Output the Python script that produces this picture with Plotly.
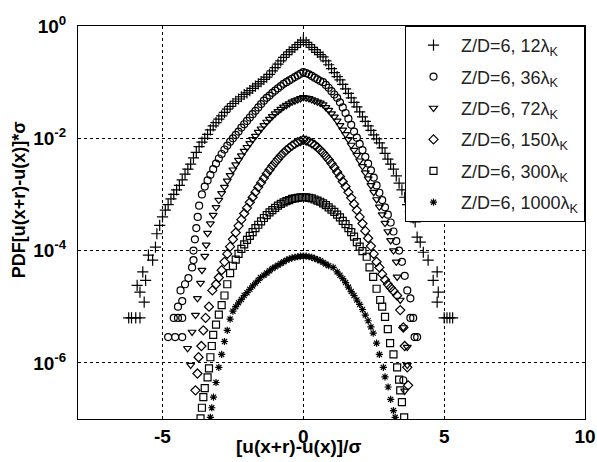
import plotly.graph_objects as go

# ---------------- data ----------------
# x = [u(x+r)-u(x)]/sigma ; logp = log10 of the PDF value

x_12 = [-6.2, -6.1, -5.95, -5.8, -5.65, -5.8, -5.9, -5.6, -5.7, -5.35, -5.5, -5.25, -5.2, -5.1, -5.0,
        -4.9, -4.8, -4.7, -4.6, -4.5, -4.4, -4.3, -4.2, -4.1, -4.0, -3.9, -3.8, -3.7, -3.6, -3.5,
        -3.4, -3.3, -3.2, -3.1, -3.0, -2.9, -2.8, -2.7, -2.6, -2.5, -2.4, -2.3, -2.2, -2.1, -2.0,
        -1.9, -1.8, -1.7, -1.6, -1.5, -1.4, -1.3, -1.2, -1.1, -1.0, -0.9, -0.8, -0.7, -0.6, -0.5,
        -0.4, -0.3, -0.2, -0.1, 0.0, 0.1, 0.2, 0.3, 0.4, 0.5, 0.6, 0.7, 0.8, 0.9, 1.0,
        1.1, 1.2, 1.3, 1.4, 1.5, 1.6, 1.7, 1.8, 1.9, 2.0, 2.1, 2.2, 2.3, 2.4, 2.5,
        2.6, 2.7, 2.8, 2.9, 3.0, 3.1, 3.2, 3.3, 3.4, 3.5, 3.6, 3.7, 3.8, 3.9, 3.97,
        4.04, 4.15, 4.26, 4.43, 4.75, 4.61, 4.79, 4.75, 5.0, 5.1, 5.2, 5.3]
logp_12 = [-5.2, -5.2, -5.2, -5.2, -4.92, -4.74, -4.62, -4.53, -4.38, -4.17, -4.08, -3.94, -3.7, -3.55, -3.4,
           -3.28, -3.18, -3.08, -3.0, -2.92, -2.84, -2.74, -2.64, -2.55, -2.46, -2.35, -2.25, -2.15, -2.07, -2.0,
           -1.93, -1.85, -1.78, -1.72, -1.66, -1.6, -1.54, -1.48, -1.43, -1.38, -1.34, -1.3, -1.26, -1.22, -1.19,
           -1.15, -1.11, -1.07, -1.03, -0.99, -0.95, -0.91, -0.86, -0.8, -0.74, -0.68, -0.62, -0.56, -0.51, -0.46,
           -0.42, -0.38, -0.33, -0.29, -0.25, -0.29, -0.33, -0.38, -0.42, -0.47, -0.51, -0.55, -0.62, -0.69, -0.76,
           -0.83, -0.9, -0.96, -1.04, -1.12, -1.2, -1.28, -1.36, -1.44, -1.53, -1.62, -1.7, -1.78, -1.86, -1.94,
           -2.01, -2.08, -2.17, -2.27, -2.37, -2.46, -2.55, -2.67, -2.8, -2.92, -3.05, -3.18, -3.3, -3.42, -3.49,
           -3.76, -3.85, -4.03, -4.17, -4.38, -4.53, -4.74, -4.92, -5.2, -5.2, -5.2, -5.2]

x_36 = [-4.8, -4.55, -4.3, -4.6, -4.45, -4.3, -4.45, -4.3, -4.36, -4.2, -4.08, -3.95, -3.9, -3.9, -3.85,
        -3.8, -3.75, -3.7, -3.6, -3.5, -3.4, -3.3, -3.2, -3.1, -3.0, -2.9, -2.8, -2.7, -2.6, -2.5,
        -2.4, -2.3, -2.2, -2.1, -2.0, -1.9, -1.8, -1.7, -1.6, -1.5, -1.4, -1.3, -1.2, -1.1, -1.0,
        -0.9, -0.8, -0.7, -0.6, -0.5, -0.4, -0.3, -0.2, -0.1, 0.0, 0.1, 0.2, 0.3, 0.4, 0.5,
        0.6, 0.7, 0.8, 0.9, 1.0, 1.1, 1.2, 1.3, 1.4, 1.5, 1.6, 1.7, 1.8, 1.9, 2.0,
        2.1, 2.2, 2.3, 2.4, 2.5, 2.6, 2.7, 2.8, 2.9, 3.0, 3.1, 3.2, 3.3, 3.4, 3.5,
        3.6, 3.69, 3.8, 3.8, 3.9, 3.95, 4.04, 3.55]
logp_36 = [-5.54, -5.54, -5.54, -5.2, -5.2, -5.2, -5.0, -4.9, -4.71, -4.6, -4.49, -4.3, -4.17, -4.0, -3.8,
           -3.6, -3.4, -3.2, -3.0, -2.86, -2.75, -2.65, -2.55, -2.45, -2.36, -2.28, -2.2, -2.13, -2.06, -2.0,
           -1.94, -1.88, -1.81, -1.75, -1.69, -1.63, -1.57, -1.51, -1.45, -1.39, -1.33, -1.28, -1.24, -1.19, -1.15,
           -1.11, -1.07, -1.03, -1.0, -0.97, -0.94, -0.91, -0.88, -0.85, -0.82, -0.84, -0.86, -0.89, -0.92, -0.95,
           -0.98, -1.0, -1.05, -1.1, -1.16, -1.22, -1.28, -1.36, -1.45, -1.55, -1.65, -1.76, -1.88, -1.99, -2.1,
           -2.21, -2.33, -2.45, -2.57, -2.7, -2.84, -2.97, -3.1, -3.23, -3.36, -3.5, -3.66, -3.83, -4.0, -4.2,
           -4.45, -4.71, -4.85, -5.2, -5.2, -5.54, -5.54, -6.31]

x_72 = [-4.0, -4.11, -3.95, -3.83, -3.76, -3.65, -3.6, -3.5, -3.45, -3.4, -3.3, -3.2, -3.1, -3.0, -2.9,
        -2.8, -2.7, -2.6, -2.5, -2.4, -2.3, -2.2, -2.1, -2.0, -1.9, -1.8, -1.7, -1.6, -1.5, -1.4,
        -1.3, -1.2, -1.1, -1.0, -0.9, -0.8, -0.7, -0.6, -0.5, -0.4, -0.3, -0.2, -0.1, 0.0, 0.1,
        0.2, 0.3, 0.4, 0.5, 0.6, 0.7, 0.8, 0.9, 1.0, 1.1, 1.2, 1.3, 1.4, 1.5, 1.6,
        1.7, 1.8, 1.9, 2.0, 2.1, 2.2, 2.3, 2.4, 2.5, 2.6, 2.7, 2.8, 2.9, 3.0, 3.1,
        3.2, 3.3, 3.33, 3.44, 3.55, 3.69, 3.69, 3.6]
logp_72 = [-6.04, -5.74, -5.45, -5.15, -4.85, -4.58, -4.35, -4.1, -3.9, -3.69, -3.52, -3.37, -3.23, -3.1, -2.98,
           -2.87, -2.76, -2.66, -2.56, -2.47, -2.39, -2.31, -2.23, -2.16, -2.09, -2.02, -1.96, -1.89, -1.83, -1.77,
           -1.71, -1.66, -1.61, -1.56, -1.52, -1.48, -1.44, -1.41, -1.38, -1.35, -1.33, -1.31, -1.29, -1.27, -1.28,
           -1.29, -1.31, -1.33, -1.35, -1.37, -1.4, -1.45, -1.5, -1.56, -1.62, -1.69, -1.77, -1.85, -1.93, -2.02,
           -2.12, -2.21, -2.3, -2.4, -2.5, -2.61, -2.72, -2.84, -2.96, -3.09, -3.22, -3.36, -3.51, -3.66, -3.82,
           -4.0, -4.2, -4.47, -4.88, -5.37, -5.72, -6.04, -6.5]

x_150 = [-3.83, -3.76, -3.72, -3.62, -3.55, -3.47, -3.35, -3.23, -3.1, -3.0, -2.9, -2.8, -2.7, -2.6, -2.5,
         -2.4, -2.3, -2.2, -2.1, -2.0, -1.9, -1.8, -1.7, -1.6, -1.5, -1.4, -1.3, -1.2, -1.1, -1.0,
         -0.9, -0.8, -0.7, -0.6, -0.5, -0.4, -0.3, -0.2, -0.1, 0.0, 0.1, 0.2, 0.3, 0.4, 0.5,
         0.6, 0.7, 0.8, 0.9, 1.0, 1.1, 1.2, 1.3, 1.4, 1.5, 1.6, 1.7, 1.8, 1.9, 2.0,
         2.1, 2.2, 2.3, 2.4, 2.5, 2.6, 2.7, 2.8, 2.9, 3.0, 3.1, 3.2, 3.33, 3.44, 3.55,
         3.6, 3.69, 3.72]
logp_150 = [-6.49, -6.19, -5.9, -5.7, -5.42, -5.2, -5.0, -4.71, -4.6, -4.48, -4.35, -4.2, -4.06, -3.93, -3.8,
            -3.68, -3.56, -3.45, -3.34, -3.24, -3.14, -3.05, -2.96, -2.87, -2.79, -2.71, -2.63, -2.56, -2.49, -2.43,
            -2.37, -2.31, -2.26, -2.21, -2.17, -2.13, -2.1, -2.07, -2.05, -2.03, -2.04, -2.06, -2.09, -2.12, -2.16,
            -2.21, -2.26, -2.32, -2.38, -2.45, -2.52, -2.6, -2.68, -2.77, -2.86, -2.96, -3.06, -3.17, -3.28, -3.4,
            -3.52, -3.65, -3.78, -3.92, -4.06, -4.2, -4.3, -4.42, -4.52, -4.6, -4.66, -4.72, -4.8, -5.06, -5.37,
            -5.7, -6.08, -6.4]

x_300 = [-3.65, -3.6, -3.55, -3.5, -3.4, -3.35, -3.3, -3.25, -3.2, -3.1, -3.0, -2.9, -2.8, -2.7, -2.6,
         -2.5, -2.4, -2.3, -2.2, -2.1, -2.0, -1.9, -1.8, -1.7, -1.6, -1.5, -1.4, -1.3, -1.2, -1.1,
         -1.0, -0.9, -0.8, -0.7, -0.6, -0.5, -0.4, -0.3, -0.2, -0.1, 0.0, 0.1, 0.2, 0.3, 0.4,
         0.5, 0.6, 0.7, 0.8, 0.9, 1.0, 1.1, 1.2, 1.3, 1.4, 1.5, 1.6, 1.7, 1.8, 1.9,
         2.0, 2.1, 2.25, 2.35, 2.48, 2.6, 2.73, 2.8, 2.9, 3.0, 3.08, 3.2, 3.33, 3.4, 3.44,
         3.5, 3.58]
logp_300 = [-6.99, -6.8, -6.61, -6.45, -6.26, -6.1, -5.9, -5.7, -5.5, -5.32, -5.14, -4.97, -4.8, -4.6, -4.4,
            -4.27, -4.16, -4.06, -3.97, -3.89, -3.81, -3.74, -3.67, -3.6, -3.54, -3.48, -3.42, -3.37, -3.32, -3.28,
            -3.24, -3.2, -3.17, -3.14, -3.12, -3.1, -3.08, -3.07, -3.06, -3.05, -3.05, -3.05, -3.06, -3.07, -3.09,
            -3.11, -3.13, -3.16, -3.19, -3.23, -3.27, -3.31, -3.36, -3.41, -3.47, -3.53, -3.6, -3.67, -3.75, -3.85,
            -3.93, -4.01, -4.11, -4.3, -4.47, -4.68, -4.88, -5.0, -5.18, -5.4, -5.65, -5.85, -6.08, -6.3, -6.49,
            -6.7, -6.97]

x_1000 = [-3.3, -3.25, -3.19, -3.1, -3.0, -2.9, -2.8, -2.7, -2.6, -2.5, -2.4, -2.3, -2.2, -2.1, -2.0,
          -1.9, -1.8, -1.7, -1.6, -1.52, -1.4, -1.3, -1.2, -1.1, -1.0, -0.9, -0.8, -0.7, -0.6, -0.5,
          -0.4, -0.3, -0.2, -0.1, 0.0, 0.1, 0.2, 0.3, 0.4, 0.5, 0.6, 0.7, 0.8, 0.9, 1.06,
          1.2, 1.3, 1.4, 1.5, 1.6, 1.7, 1.8, 1.9, 2.0, 2.1, 2.2, 2.3, 2.4, 2.48, 2.6,
          2.7, 2.84, 2.9, 3.01, 3.1, 3.2, 3.26]
logp_1000 = [-6.97, -6.8, -6.61, -6.35, -6.08, -5.85, -5.62, -5.42, -5.22, -5.08, -5.0, -4.93, -4.87, -4.8, -4.75,
             -4.69, -4.63, -4.58, -4.53, -4.48, -4.44, -4.4, -4.36, -4.32, -4.29, -4.26, -4.23, -4.2, -4.17, -4.15,
             -4.13, -4.12, -4.11, -4.1, -4.1, -4.1, -4.11, -4.12, -4.14, -4.16, -4.18, -4.21, -4.24, -4.27, -4.3,
             -4.38, -4.44, -4.5, -4.57, -4.65, -4.73, -4.8, -4.88, -4.96, -5.05, -5.15, -5.25, -5.36, -5.47, -5.65,
             -5.85, -6.08, -6.25, -6.43, -6.65, -6.85, -6.97]

series_names = ["Z/D=6, 12λ<sub>K</sub>", "Z/D=6, 36λ<sub>K</sub>", "Z/D=6, 72λ<sub>K</sub>",
                "Z/D=6, 150λ<sub>K</sub>", "Z/D=6, 300λ<sub>K</sub>", "Z/D=6, 1000λ<sub>K</sub>"]
series_x = [x_12, x_36, x_72, x_150, x_300, x_1000]
series_logp = [logp_12, logp_36, logp_72, logp_150, logp_300, logp_1000]
symbols = ["cross-thin-open", "circle-open", "triangle-down-open", "diamond-open", "square-open", "asterisk-open"]
sizes = [8, 7, 7, 7, 7, 6]

y_tickvals = [1e-6, 1e-4, 1e-2, 1]
y_ticktext = ["10<sup>-6</sup>", "10<sup>-4</sup>", "10<sup>-2</sup>", "10<sup>0</sup>"]
x_tickvals = [-5, 0, 5, 10]
x_ticktext = ["-5", "0", "5", "10"]

FONT = "Arial, Liberation Sans, sans-serif"

fig = go.Figure()
for i, (name, xs, lps, sym, sz) in enumerate(zip(series_names, series_x, series_logp, symbols, sizes)):
    fig.add_trace(go.Scatter(
        x=xs, y=[10 ** v for v in lps], mode="markers", name=name, legendgroup=f"g{i}",
        marker=dict(symbol=sym, size=sz, color="black", line=dict(color="black", width=1.2)),
    ))

fig.update_layout(
    width=597, height=462,
    margin=dict(l=78, r=12, t=26, b=43, autoexpand=False),
    paper_bgcolor="white", plot_bgcolor="white",
    font=dict(family=FONT, color="black"),
    showlegend=True,
    legend=dict(
        x=1, y=1, xanchor="right", yanchor="top",
        bgcolor="white", bordercolor="black", borderwidth=1,
        font=dict(family=FONT, size=18, color="#222"),
        itemwidth=45, traceorder="grouped", tracegroupgap=5,
    ),
    xaxis=dict(
        range=[-8, 10], tickmode="array", tickvals=x_tickvals, ticktext=x_ticktext,
        tickfont=dict(family=FONT, size=19, weight="bold", color="black"),
        showgrid=True, gridcolor="black", gridwidth=1, griddash="3px,3px",
        zeroline=False, showline=True, linecolor="black", linewidth=1, mirror=True,
        ticks="", automargin=False,
    ),
    yaxis=dict(
        type="log", range=[-7, 0], tickmode="array", tickvals=y_tickvals, ticktext=y_ticktext,
        tickfont=dict(family=FONT, size=19, weight="bold", color="black"),
        showgrid=True, gridcolor="black", gridwidth=1, griddash="3px,3px",
        zeroline=False, showline=True, linecolor="black", linewidth=1, mirror=True,
        ticks="", automargin=False, ticklabelstandoff=7,
    ),
)

fig.add_annotation(
    text="[u(x+r)-u(x)]/σ", xref="paper", yref="paper", x=0.434, y=-0.071,
    xanchor="center", yanchor="middle", showarrow=False,
    font=dict(family=FONT, size=19, weight="bold", color="black"),
)
fig.add_annotation(
    text="PDF[u(x+r)-u(x)]*σ", xref="paper", yref="paper", x=-0.116, y=0.557,
    xanchor="center", yanchor="middle", textangle=-90, showarrow=False,
    font=dict(family=FONT, size=18, weight="bold", color="black"),
)

fig.write_html("out.html", config={"displayModeBar": False},
               post_script="document.body.style.margin='0';")
